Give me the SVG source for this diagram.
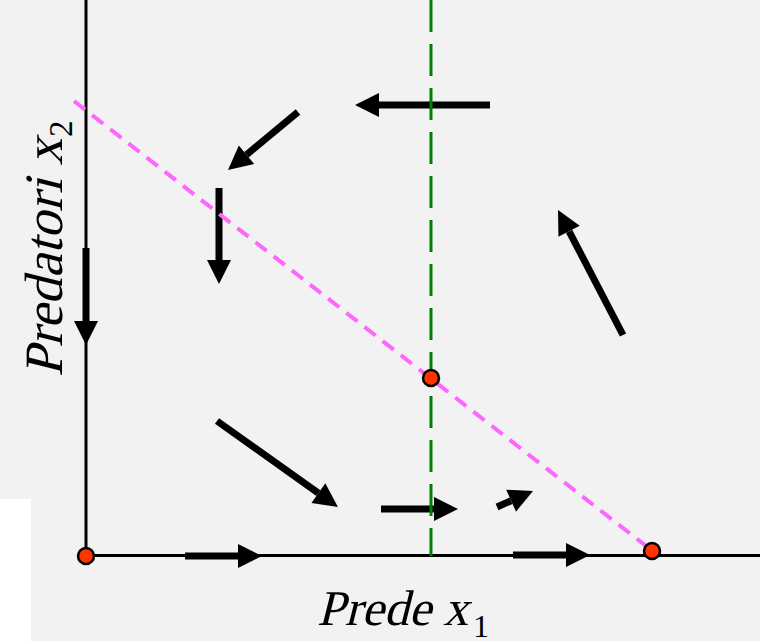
<svg xmlns="http://www.w3.org/2000/svg" width="760" height="641" viewBox="0 0 760 641">
  <defs>
    <marker id="head" markerUnits="userSpaceOnUse" markerWidth="24" markerHeight="24" refX="0" refY="12" orient="auto" overflow="visible">
      <path d="M0,0 L24,12 L0,24 z" fill="#000"/>
    </marker>
    <style>
      .axis { stroke:#000; stroke-width:3; fill:none; }
      .arr { stroke:#000; stroke-width:7; fill:none; marker-end:url(#head); }
      .pink { stroke:#ff66ff; stroke-width:4; stroke-dasharray:14 9; fill:none; }
      .green { stroke:#008000; stroke-width:3; stroke-dasharray:32 12; fill:none; }
      .pt { fill:#ff3300; stroke:#000; stroke-width:2.5; }
      .lbl { font-family:"Liberation Serif","Times New Roman",serif; font-style:normal; fill:#000; }
    </style>
  </defs>
  <rect x="0" y="0" width="760" height="641" fill="#f2f2f2"/>
  <rect x="0" y="499" width="31" height="142" fill="#ffffff"/>

  <g id="axes">
    <line class="axis" x1="86" y1="0" x2="86" y2="556"/>
    <line class="axis" x1="86" y1="555.5" x2="760" y2="555.5"/>
  </g>

  <g id="connectors">
    <line class="arr" x1="490" y1="105" x2="379" y2="105"/>
    <line class="arr" x1="298" y1="112" x2="246.5" y2="154.7"/>
    <line class="arr" x1="219" y1="188" x2="219" y2="260"/>
    <line class="arr" x1="86" y1="248" x2="86" y2="321"/>
    <line class="arr" x1="217" y1="421" x2="318.4" y2="493.1"/>
    <line class="arr" x1="381" y1="509" x2="434" y2="509"/>
    <line class="arr" x1="497" y1="507" x2="511.1" y2="500.7"/>
    <line class="arr" x1="185" y1="556" x2="238" y2="556"/>
    <line class="arr" x1="513" y1="555" x2="566" y2="555"/>
    <line class="arr" x1="623" y1="335" x2="569.1" y2="231.3"/>
  </g>

  <g id="nullclines">
    <line class="pink" x1="74" y1="101" x2="650" y2="549"/>
    <line class="green" x1="431" y1="0" x2="431" y2="556"/>
  </g>

  <g id="eq-origin"><circle class="pt" cx="86" cy="556" r="8"/></g>
  <g id="eq-coexist"><circle class="pt" cx="431" cy="378" r="8"/></g>
  <g id="eq-prey"><circle class="pt" cx="652" cy="551" r="8"/></g>

  <g id="label-x">
    <text class="lbl" transform="translate(317,625) skewX(-14)" x="0" y="0" font-size="50">Prede x</text>
    <text class="lbl" x="473" y="637" font-size="32">1</text>
  </g>
  <g id="label-y">
    <g transform="translate(62,377) rotate(-90)">
      <text class="lbl" transform="skewX(-14)" x="0" y="0" font-size="54">Predatori x</text>
      <text class="lbl" x="240" y="10" font-size="33">2</text>
    </g>
  </g>
</svg>
